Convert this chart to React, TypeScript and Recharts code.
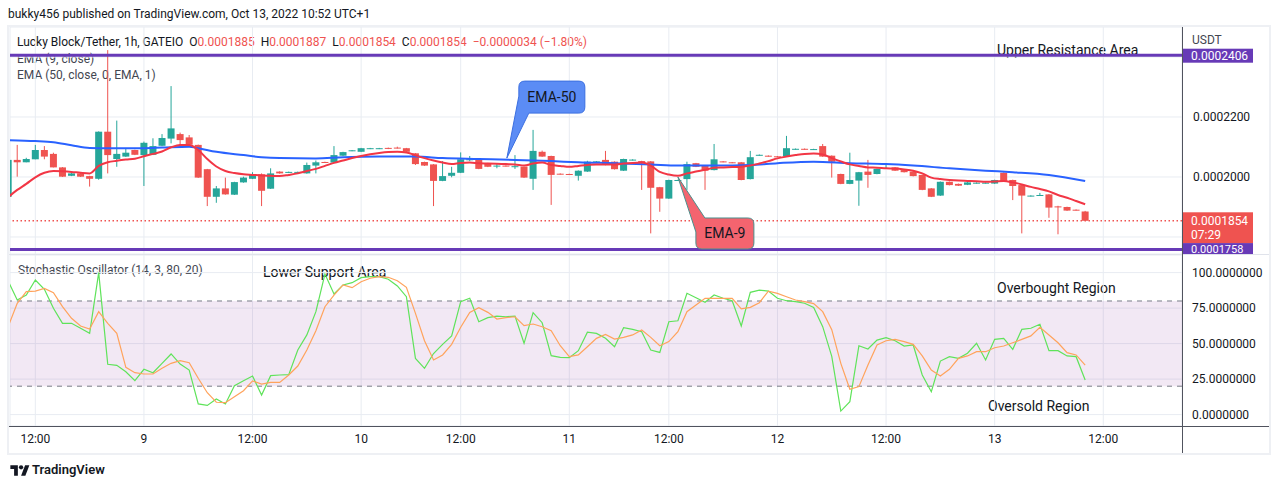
import React from 'react';
import {
  ComposedChart,
  Bar,
  Line,
  XAxis,
  YAxis,
  CartesianGrid,
  ReferenceLine,
  ReferenceArea,
  ReferenceDot,
} from 'recharts';

// 1h bars; bar 0 = Oct 8, 12:00 (GATEIO skips a couple of hours, so ticks are not every 12)
const FIRST_BAR = -3;
// prices below are in units of 0.0000001 USDT
const PRICE_UNIT = 1e-7;

const opens = [
  1934, 2057, 2049, 2059, 2090, 2077, 2032, 2004, 2012, 2003,
  1994, 2151, 2060, 2068, 2090, 2073, 2074, 2104, 2128, 2143,
  2132, 2107, 2026, 1934, 1962, 1941, 1982, 1994, 2009, 1961,
  2018, 2014, 2014, 2012, 2038, 2050, 2048, 2071, 2087, 2084,
  2094, 2094, 2097, 2098, 2096, 2079, 2050, 2042, 1987, 2004,
  2014, 2058, 2059, 2046, 2037, 2038, 2033, 2034, 1994, 2084,
  2070, 2011, 2010, 2004, 2018, 2050, 2057, 2051, 2021, 2056,
  2053, 2052, 1966, 1928, 1988, 1993, 2046, 2038, 2023, 2052,
  2049, 2049, 1993, 2072, 2071, 2069, 2068, 2092, 2094, 2091,
  2103, 2071, 2010, 1977, 1988, 2018, 2010, 2028, 2032, 2023,
  2018, 2007, 1962, 1938, 1984, 1977, 1974, 1979, 1979, 1978,
  2014, 1990, 1973, 1936, 1938, 1942, 1902, 1900, 1891, 1885,
];
const highs = [
  2057, 2107, 2064, 2107, 2103, 2081, 2033, 2013, 2013, 2004,
  2152, 2423, 2188, 2096, 2091, 2118, 2129, 2143, 2303, 2148,
  2140, 2108, 2027, 1970, 1998, 1984, 2001, 2016, 2012, 2029,
  2019, 2018, 2018, 2048, 2055, 2051, 2103, 2084, 2090, 2097,
  2097, 2097, 2098, 2101, 2097, 2080, 2051, 2043, 2053, 2034,
  2082, 2070, 2060, 2047, 2046, 2039, 2073, 2035, 2157, 2088,
  2071, 2012, 2011, 2022, 2054, 2053, 2087, 2052, 2061, 2059,
  2054, 2053, 1967, 1991, 1991, 2051, 2047, 2039, 2110, 2053,
  2050, 2050, 2087, 2075, 2072, 2070, 2137, 2095, 2095, 2094,
  2110, 2072, 2011, 2081, 2017, 2057, 2028, 2040, 2033, 2024,
  2019, 2008, 1963, 1985, 1985, 1978, 1983, 1982, 1982, 1991,
  2015, 1991, 1974, 1939, 1947, 1943, 1904, 1901, 1892, 1887,
];
const lows = [
  1934, 2001, 2049, 2059, 2059, 2032, 2000, 2003, 2000, 1968,
  1991, 2012, 2034, 2067, 2073, 1970, 2073, 2103, 2112, 2101,
  2107, 1997, 1903, 1914, 1941, 1940, 1981, 1993, 1903, 1960,
  2011, 2013, 2013, 2011, 2012, 2047, 2047, 2070, 2086, 2083,
  2093, 2093, 2093, 2095, 2083, 2040, 2037, 1903, 1986, 1999,
  2013, 2053, 2026, 2033, 2029, 2035, 2027, 1997, 1957, 2067,
  1907, 2008, 2007, 1988, 2017, 2049, 2039, 2025, 2020, 2055,
  1957, 1812, 1884, 1927, 1987, 1957, 2033, 1957, 2022, 2049,
  2046, 1989, 1992, 2071, 2068, 2066, 2067, 2091, 2091, 2090,
  2067, 1998, 1976, 1976, 1904, 1964, 2009, 2027, 2020, 2015,
  2002, 1956, 1933, 1937, 1972, 1970, 1973, 1978, 1978, 1977,
  1986, 1923, 1812, 1935, 1937, 1864, 1809, 1887, 1888, 1854,
];
const closes = [
  2057, 2049, 2060, 2090, 2068, 2032, 2001, 2012, 2001, 1994,
  2151, 2073, 2077, 2081, 2074, 2114, 2103, 2130, 2162, 2123,
  2108, 1998, 1934, 1962, 1942, 1983, 1998, 2009, 1954, 2012,
  2012, 2017, 2017, 2040, 2049, 2048, 2073, 2083, 2089, 2096,
  2096, 2096, 2094, 2096, 2084, 2043, 2038, 1987, 2003, 2014,
  2059, 2059, 2027, 2034, 2038, 2036, 2036, 1998, 2087, 2068,
  2007, 2009, 2008, 2021, 2051, 2052, 2040, 2026, 2060, 2058,
  2051, 1964, 1928, 1990, 1990, 2043, 2034, 2021, 2059, 2050,
  2047, 1990, 2066, 2074, 2069, 2067, 2096, 2094, 2092, 2093,
  2068, 2051, 1977, 1990, 2016, 2007, 2027, 2030, 2021, 2016,
  2003, 1957, 1934, 1984, 1973, 1971, 1982, 1981, 1981, 1990,
  1987, 1970, 1938, 1938, 1940, 1898, 1900, 1888, 1889, 1854,
];
const ema9 = [
  1933, 1957, 1977, 1999, 2014, 2020, 2019, 2017, 2014, 2012,
  2037, 2049, 2054, 2058, 2061, 2069, 2077, 2085, 2099, 2107,
  2107, 2090, 2060, 2035, 2020, 2013, 2009, 2007, 2005, 2004,
  2003, 2007, 2012, 2020, 2027, 2037, 2047, 2055, 2063, 2070,
  2076, 2080, 2083, 2084, 2082, 2072, 2063, 2055, 2048, 2043,
  2047, 2048, 2046, 2045, 2044, 2043, 2042, 2038, 2045, 2048,
  2040, 2037, 2034, 2037, 2040, 2042, 2042, 2042, 2045, 2047,
  2048, 2038, 2017, 2008, 2004, 2012, 2018, 2024, 2031, 2032,
  2033, 2034, 2038, 2045, 2053, 2062, 2068, 2073, 2077, 2078,
  2075, 2063, 2052, 2042, 2037, 2032, 2031, 2029, 2028, 2025,
  2021, 2012, 1998, 1993, 1990, 1988, 1987, 1986, 1984, 1985,
  1987, 1982, 1975, 1967, 1960, 1952, 1940, 1931, 1920, 1909,
];
// EMA 50 read at these bars only
const ema50Bars = [
  -3, 0, 2, 4, 6, 8, 12, 14, 17, 18, 20, 23, 25, 27, 31, 34, 38, 42, 45,
  49, 53, 57, 60, 64, 68, 71, 75, 79, 82, 86, 90, 94, 97, 101, 105, 108, 112, 116,
];
const ema50Values = [
  2123, 2120, 2116, 2106, 2097, 2096, 2096, 2098, 2101, 2096, 2084, 2073, 2066, 2063, 2062, 2066, 2068, 2068, 2063,
  2060, 2057, 2053, 2049, 2046, 2042, 2038, 2038, 2040, 2046, 2051, 2046, 2043, 2038, 2029, 2021, 2016, 2007, 1987,
];
const stochK = [
  94, 80.7, 84.2, 94.8, 88.2, 74.9, 64.3, 64.3, 60.8, 57.3,
  100, 35.4, 34.7, 30.2, 23.9, 31.9, 29.5, 36.1, 42.7, 35.6,
  31.4, 7.5, 6.5, 11, 7.5, 20.4, 23.9, 27.2, 13.8, 27.4,
  27.9, 28.1, 45.5, 56.1, 72.5, 99, 84.9, 91.3, 92.9, 96.4,
  97.1, 97.1, 95.3, 90.6, 83, 39.6, 32.6, 43, 49.5, 55.4,
  79.5, 81.9, 65.4, 68.3, 69.4, 68.9, 69.4, 50.2, 71.8, 64.7,
  41.5, 40.3, 40.1, 45, 58, 57.2, 53.7, 47.8, 61.2, 60,
  58.4, 45.5, 43.8, 65.4, 66.1, 85.4, 82.3, 79.1, 84.2, 81.9,
  80.2, 62.4, 86.1, 87.7, 87, 81.9, 80.2, 79.5, 78.4, 75.5,
  61.9, 41, 2.5, 9.1, 48.5, 46.2, 52.5, 54.2, 52, 48.3,
  49, 27.9, 16.1, 37.7, 40.8, 39.6, 43.2, 50.2, 38.5, 53,
  53.7, 46, 60, 60.8, 63.6, 45, 45, 41.3, 40.8, 24.4,
];
const stochD = [
  62, 78.4, 86.6, 87, 88.9, 85.9, 76, 67.8, 62.4, 60.3,
  72.5, 64.3, 57.3, 33.3, 29.5, 28.6, 28.6, 32.6, 36.1, 38,
  36.5, 25.6, 15.4, 8.7, 8.4, 12.6, 16.8, 23.7, 21.5, 22.7,
  22.7, 27.9, 34.2, 45.5, 59.1, 76, 84.2, 91.3, 89.4, 93.6,
  96, 97.1, 96.7, 94.3, 89.6, 71.3, 52, 38.5, 42, 49.5,
  61.5, 72, 75.3, 72, 67.3, 68.3, 68.9, 62.6, 63.8, 61.9,
  59.1, 48.5, 40.8, 42, 47.8, 53.7, 56.5, 53.2, 54.4, 56.1,
  59.6, 54.4, 48.5, 51.4, 58.4, 72.5, 77.2, 81.9, 81.9, 81.9,
  81.9, 74.4, 75.5, 78.8, 87, 85.4, 83, 80.7, 79.5, 78.2,
  72.5, 59.8, 36.1, 17.8, 19.7, 34.9, 49, 52, 53, 51.4,
  49.5, 41.3, 31.4, 27.2, 31.9, 39.6, 41.3, 44.3, 44.3, 47.1,
  48.3, 50.6, 53, 55.4, 61.5, 56.1, 50.6, 43.6, 42, 34.9,
];

const timeTicks = [0, 12, 24, 36, 47, 59, 70, 82, 94, 106, 118];
const timeLabels = ['12:00', '9', '12:00', '10', '12:00', '11', '12:00', '12', '12:00', '13', '12:00'];
const priceTicks = [0.00018, 0.0002, 0.00022, 0.00024];
const stochTicks = [0, 25, 50, 75, 100];

const resistance = 0.0002406;
const support = 0.0001758;
const lastPrice = 0.0001854;
const countdown = '07:29';
const ema50Tip = { bar: 52.1, price: 0.0002063 };
const ema9Tip = { bar: 71, price: 0.0002 };

const FONT = 'Roboto, "Noto Sans", sans-serif';
const GRID = '#e8ecf2';
const UP = '#26a69a';
const DOWN = '#ef5350';
const PURPLE = '#673ab7';
const X_DOMAIN: [number, number] = [-2.8, 126.7];
const PRICE_H = 227;

const ema50ByBar = new Map(ema50Bars.map((b, i) => [b, ema50Values[i]]));
const data = opens.map((o, i) => {
  const bar = FIRST_BAR + i;
  const e50 = ema50ByBar.get(bar);
  return {
    bar,
    o: o * PRICE_UNIT,
    h: highs[i] * PRICE_UNIT,
    l: lows[i] * PRICE_UNIT,
    c: closes[i] * PRICE_UNIT,
    range: [lows[i] * PRICE_UNIT, highs[i] * PRICE_UNIT],
    ema9: ema9[i] * PRICE_UNIT,
    ema50: e50 == null ? null : e50 * PRICE_UNIT,
    k: stochK[i],
    d: stochD[i],
  };
});

function Candle(props: any) {
  const { x, y, width, height, payload } = props;
  if (x == null || y == null || !payload) return null;
  const top = Math.min(y, y + height);
  const bottom = Math.max(y, y + height);
  const k = (bottom - top) / (payload.h - payload.l);
  const at = (v: number) => top + (payload.h - v) * k;
  const color = payload.c >= payload.o ? UP : DOWN;
  const cx = x + width / 2;
  const bodyTop = at(Math.max(payload.o, payload.c));
  const bodyH = Math.max(1, at(Math.min(payload.o, payload.c)) - bodyTop);
  return (
    <g>
      <line x1={cx} x2={cx} y1={top} y2={bottom} stroke={color} strokeWidth={1} />
      <rect x={x} y={bodyTop} width={width} height={bodyH} fill={color} />
    </g>
  );
}

function PriceTick(props: any) {
  const { x, y, payload } = props;
  if (payload.value < 0.00019 || payload.value > 0.00023) return null;
  return (
    <text x={x + 3} y={y} dy={4} fontSize={12} fontFamily={FONT} fill="#131722" textAnchor="start">
      {payload.value.toFixed(7)}
    </text>
  );
}

function priceBadge(value: number, fill: string, second?: string) {
  return (props: any) => {
    const vb = props.viewBox;
    if (!vb) return null;
    const x = vb.x + vb.width + 1;
    const y = vb.y;
    const top = second ? y - 8.5 : y - 6.5;
    const h = Math.min(second ? 31 : 14, PRICE_H - top);
    // the support badge runs into the pane edge, so its text is nudged up to stay whole
    const cut = h < 14;
    return (
      <g>
        <rect x={x} y={top} width={70} height={h} fill={fill} />
        <text x={x + 8} y={cut ? top + h - 1.5 : y + 4.5} fontSize={cut ? 11 : 12} fontFamily={FONT} fill="#fff">
          {value.toFixed(7)}
        </text>
        {second && (
          <text x={x + 8} y={y + 18.5} fontSize={12} fontFamily={FONT} fill="#fff">
            {second}
          </text>
        )}
      </g>
    );
  };
}

function Ema50Callout(props: any) {
  const { cx, cy } = props;
  const L = cx + 12, R = cx + 78, T = cy - 77, B = cy - 45, r = 6;
  const d = `M${L + r},${T} H${R - r} Q${R},${T} ${R},${T + r} V${B - r} Q${R},${B} ${R - r},${B} H${cx + 22} L${cx},${cy} L${L},${cy - 62} V${T + r} Q${L},${T} ${L + r},${T} Z`;
  return (
    <g>
      <path d={d} fill="#5b8cf5" stroke="#3b6fe0" strokeWidth={1} />
      <text x={(L + R) / 2} y={(T + B) / 2 + 5} textAnchor="middle" fontSize={14} fontFamily={FONT} fill="#131722">
        EMA-50
      </text>
    </g>
  );
}

function Ema9Callout(props: any) {
  const { cx, cy } = props;
  const L = cx + 18, R = cx + 76, T = cy + 41, B = cy + 72, r = 6;
  const d = `M${cx + 27},${T} H${R - r} Q${R},${T} ${R},${T + r} V${B - r} Q${R},${B} ${R - r},${B} H${L + r} Q${L},${B} ${L},${B - r} V${cy + 55} L${cx},${cy} Z`;
  return (
    <g>
      <path d={d} fill="#f4646f" stroke="#4b8f8c" strokeWidth={1} />
      <text x={(L + R) / 2} y={(T + B) / 2 + 5} textAnchor="middle" fontSize={14} fontFamily={FONT} fill="#131722">
        EMA-9
      </text>
    </g>
  );
}

function Txt({ x, y, size = 12, color = '#131722', weight = 400, children }: any) {
  return (
    <div
      style={{
        position: 'absolute',
        left: x,
        top: y - 8,
        lineHeight: '16px',
        fontSize: size,
        fontWeight: weight,
        color,
        whiteSpace: 'nowrap',
        fontFamily: FONT,
      }}
    >
      {children}
    </div>
  );
}

const red = (s: string) => <span style={{ color: DOWN }}>{s}</span>;

export default function App() {
  return (
    <div style={{ position: 'absolute', left: 0, top: 0, width: 1280, height: 489, background: '#fff', fontFamily: FONT }}>
      <Txt x={8} y={14}>bukky456 published on TradingView.com, Oct 13, 2022 10:52 UTC+1</Txt>
      <div style={{ position: 'absolute', left: 7, top: 25, width: 1260, height: 426, border: '2px solid #eef0f4' }} />

      <Txt x={17} y={42}>
        Lucky Block/Tether, 1h, GATEIO&nbsp;&nbsp;O{red('0.0001885')}&nbsp;&nbsp;H{red('0.0001887')}&nbsp;&nbsp;L{red('0.0001854')}
        &nbsp;&nbsp;C{red('0.0001854')}&nbsp;&nbsp;{red('\u22120.0000034 (\u22121.80%)')}
      </Txt>
      <Txt x={17} y={59} color="#434651">EMA (9, close)</Txt>
      <Txt x={17} y={75} color="#434651">EMA (50, close, 0, EMA, 1)</Txt>
      <Txt x={1192} y={40} color="#434651">USDT</Txt>
      <Txt x={997} y={50} size={14}>Upper Resistance Area</Txt>
      <Txt x={18} y={270} color="#434651">Stochastic Oscillator (14, 3, 80, 20)</Txt>
      <Txt x={263} y={272} size={14}>Lower Support Area</Txt>
      <Txt x={997} y={288} size={14}>Overbought Region</Txt>
      <Txt x={988} y={406} size={14}>Oversold Region</Txt>

      <div style={{ position: 'absolute', left: 9, top: 254, width: 1260, height: 1, background: '#e0e3eb' }} />

      <div style={{ position: 'absolute', left: 8, top: 27 }}>
        <ComposedChart width={1262} height={PRICE_H} data={data} margin={{ top: 0, right: 0, bottom: 0, left: 2 }}>
          <CartesianGrid stroke={GRID} />
          <XAxis type="number" dataKey="bar" domain={X_DOMAIN} allowDataOverflow ticks={timeTicks} hide />
          <YAxis
            orientation="right"
            width={88}
            domain={[0.00017433, 0.00025]}
            allowDataOverflow
            ticks={priceTicks}
            axisLine={false}
            tickLine={false}
            tick={PriceTick}
          />
          <ReferenceLine
            y={lastPrice}
            stroke={DOWN}
            strokeWidth={1.4}
            strokeDasharray="1.5 2.5"
            label={priceBadge(lastPrice, DOWN, countdown)}
          />
          <Bar dataKey="range" barSize={7} shape={(p: any) => <Candle {...p} />} isAnimationActive={false} />
          <Line dataKey="ema50" type="monotone" connectNulls stroke="#2962ff" strokeWidth={2} dot={false} isAnimationActive={false} />
          <Line dataKey="ema9" type="monotone" stroke="#f23645" strokeWidth={2} dot={false} isAnimationActive={false} />
          <ReferenceLine y={resistance} stroke={PURPLE} strokeWidth={3} label={priceBadge(resistance, PURPLE)} />
          <ReferenceLine y={support} stroke={PURPLE} strokeWidth={3} label={priceBadge(support, PURPLE)} />
          <ReferenceDot x={ema50Tip.bar} y={ema50Tip.price} shape={(p: any) => <Ema50Callout {...p} />} />
          <ReferenceDot x={ema9Tip.bar} y={ema9Tip.price} shape={(p: any) => <Ema9Callout {...p} />} />
        </ComposedChart>
      </div>

      <div style={{ position: 'absolute', left: 8, top: 255 }}>
        <ComposedChart width={1262} height={198} data={data} margin={{ top: 0, right: 0, bottom: 0, left: 2 }}>
          <CartesianGrid stroke={GRID} />
          <ReferenceArea y1={20} y2={80} fill="#9c4fa8" fillOpacity={0.13} stroke="none" />
          <XAxis
            type="number"
            dataKey="bar"
            domain={X_DOMAIN}
            allowDataOverflow
            ticks={timeTicks}
            interval={0}
            height={27}
            axisLine={false}
            tickLine={false}
            tick={{ fontSize: 12, fill: '#131722', fontFamily: FONT }}
            tickFormatter={(v: number) => timeLabels[timeTicks.indexOf(v)] ?? ''}
          />
          <YAxis
            orientation="right"
            width={88}
            domain={[-8.03, 112.39]}
            allowDataOverflow
            ticks={stochTicks}
            axisLine={false}
            tickLine={false}
            tickMargin={4}
            tick={{ fontSize: 12, fill: '#131722', fontFamily: FONT, textAnchor: 'start' }}
            tickFormatter={(v: number) => v.toFixed(7)}
          />
          <ReferenceLine y={80} stroke="#787b86" strokeDasharray="5 5" />
          <ReferenceLine y={20} stroke="#787b86" strokeDasharray="5 5" />
          <Line dataKey="k" stroke="#5fe35a" strokeWidth={1.2} dot={false} isAnimationActive={false} />
          <Line dataKey="d" stroke="#ffa35c" strokeWidth={1.2} dot={false} isAnimationActive={false} />
        </ComposedChart>
      </div>

      <div style={{ position: 'absolute', left: 9, top: 426, width: 1260, height: 1, background: '#50535e' }} />
      <div style={{ position: 'absolute', left: 1182, top: 27, width: 1, height: 426, background: '#50535e' }} />

      <svg style={{ position: 'absolute', left: 10, top: 463 }} width={20} height={15} viewBox="0 0 36 28">
        <path d="M14 24H7V11H0V4h14v20z" fill="#131722" />
        <circle cx="20" cy="8" r="4" fill="#131722" />
        <path d="M28 24h-8l7.5-20h8z" fill="#131722" />
      </svg>
      <Txt x={32} y={470} size={13} weight={600}>TradingView</Txt>
    </div>
  );
}
